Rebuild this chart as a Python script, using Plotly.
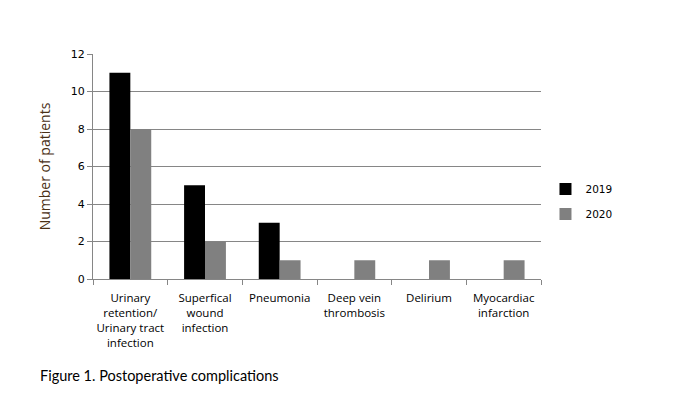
import plotly.graph_objects as go

categories = [
    "Urinary<br>retention/<br>Urinary tract<br>infection",
    "Superfical<br>wound<br>infection",
    "Pneumonia",
    "Deep vein<br>thrombosis",
    "Delirium",
    "Myocardiac<br>infarction",
]
values_2019 = [11, 5, 3, 0, 0, 0]
values_2020 = [8, 2, 1, 1, 1, 1]
y_ticks = [0, 2, 4, 6, 8, 10, 12]

fig = go.Figure()
fig.add_trace(go.Bar(x=categories, y=values_2019, name="2019",
                     marker=dict(color="#000000", line=dict(width=0)), legendgroup="a"))
fig.add_trace(go.Bar(x=categories, y=values_2020, name="2020",
                     marker=dict(color="#808080", line=dict(width=0)), legendgroup="b"))

fig.update_layout(
    width=691, height=411,
    margin=dict(l=85, r=158, t=46, b=140),
    paper_bgcolor="white", plot_bgcolor="white",
    barmode="group", bargap=0.44, bargroupgap=0,
    font=dict(family="DejaVu Sans", size=10.5, color="#000000"),
    legend=dict(x=1.01, y=0.345, xanchor="left", yanchor="middle",
                font=dict(size=10.5), tracegroupgap=6, traceorder="grouped",
                itemwidth=30),
    xaxis=dict(showline=True, linecolor="#868686", linewidth=1,
               ticks="outside", tickson="boundaries", ticklen=5, tickcolor="#868686",
               showgrid=False, tickfont=dict(family="Open Sans", size=11.5),
               tickangle=0, automargin=False, ticklabelstandoff=8),
    yaxis=dict(range=[0, 12], tickvals=y_ticks, showline=True, linecolor="#868686",
               linewidth=1, ticks="outside", ticklen=5, tickcolor="#868686",
               showgrid=True, gridcolor="#868686", gridwidth=1, zeroline=False,
               tickfont=dict(size=11), automargin=False,
               title=dict(text="Number of patients", standoff=16,
                          font=dict(family="Open Sans", size=14, color="#4a3015"))),
    showlegend=True,
)

fig.add_annotation(text="Figure 1. Postoperative complications", xref="paper", yref="paper",
                   x=(38 - 93) / 448, y=-(375 - 279) / 225, xanchor="left", yanchor="middle",
                   showarrow=False, font=dict(family="Lato", size=14.5, color="#000000"))

fig.write_html("out.html")
